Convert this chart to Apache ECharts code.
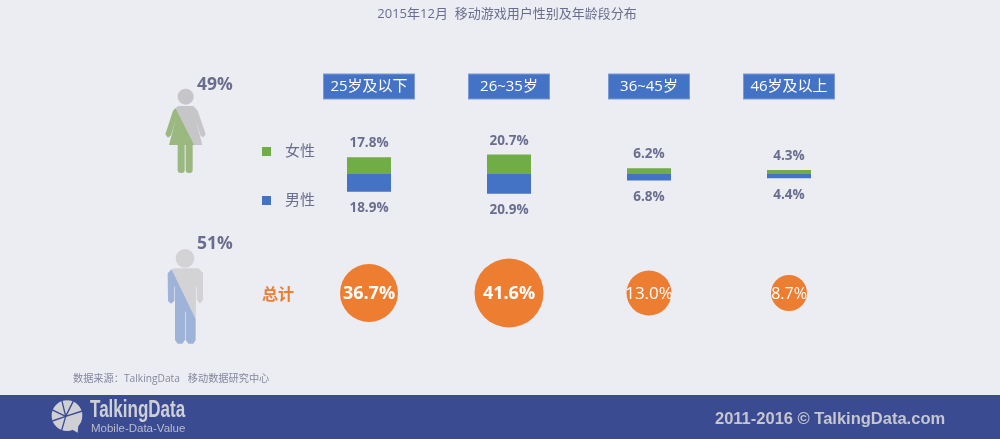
<!DOCTYPE html>
<html>
<head>
    <meta charset="utf-8">
    <script src="https://cdn.jsdelivr.net/npm/echarts@6/dist/echarts.min.js"></script>
    <style type="text/css">
        html, body { width: 100%; height: 100%; margin: 0; background: #ececf3; }
        #chart { width: 1000px; height: 439px; }
    </style>
</head>
<body>
<div id="chart"></div>
<script type="text/javascript">
    var ageGroups = ['25岁及以下', '26~35岁', '36~45岁', '46岁及以上'];
    var female = [17.8, 20.7, 6.2, 4.3];
    var male = [18.9, 20.9, 6.8, 4.4];
    var total = [36.7, 41.6, 13.0, 8.7];
    var femaleShare = '49%';
    var maleShare = '51%';

    var FONT = '"Open Sans", "Noto Sans CJK SC", sans-serif';
    var TEXT = '#6a6e8e';
    var GREEN = '#70ad47';
    var BLUE = '#4472c4';
    var ORANGE = '#ed7d31';

    // bubbles in the picture are not area-true, so size goes through these stops
    var sizeStops = [[8.7, 36], [13, 45], [36.7, 58], [41.6, 69]];
    function bubbleSize(v) {
        for (var i = 1; i < sizeStops.length; i++) {
            if (v <= sizeStops[i][0]) {
                return echarts.number.linearMap(v,
                    [sizeStops[i - 1][0], sizeStops[i][0]],
                    [sizeStops[i - 1][1], sizeStops[i][1]]);
            }
        }
        return sizeStops[sizeStops.length - 1][1];
    }

    function poly(points, fill) {
        return { type: 'polygon', shape: { points: points }, style: { fill: fill } };
    }
    function head(x, y, r, fill) {
        return { type: 'circle', shape: { cx: x, cy: y, r: r }, style: { fill: fill } };
    }
    function txt(x, y, text, font, fill, align) {
        return {
            type: 'text', x: x, y: y,
            style: { text: text, font: font, fill: fill, align: align || 'left', verticalAlign: 'middle' }
        };
    }

    // figures are drawn at 3x and scaled down
    var woman = {
        type: 'group', x: 155, y: 80, scaleX: 1 / 3, scaleY: 1 / 3, silent: true,
        children: [
            head(92, 50, 24, '#c6c6c8'),
            poly([[62, 84], [70, 78], [115, 78], [128, 92], [152, 162], [146, 172], [137, 168], [122, 118], [142, 195], [118, 195]], '#c6c6c8'),
            poly([[62, 84], [118, 195], [42, 195], [62, 118], [48, 166], [39, 173], [31, 163], [54, 92]], '#9ab87f'),
            { type: 'rect', shape: { x: 68, y: 190, width: 21, height: 89, r: 9 }, style: { fill: '#9ab87f' } },
            { type: 'rect', shape: { x: 92, y: 190, width: 21, height: 89, r: 9 }, style: { fill: '#9ab87f' } }
        ]
    };
    var man = {
        type: 'group', x: 155, y: 245, scaleX: 1 / 3, scaleY: 1 / 3, silent: true,
        children: [
            head(90, 40, 28, '#d3d3d5'),
            poly([[50, 73], [60, 70], [130, 70], [144, 84], [144, 165], [135, 176], [126, 165], [126, 125], [124, 125], [122, 222]], '#d3d3d5'),
            poly([[50, 73], [122, 222], [122, 285], [115, 296], [100, 296], [92, 285], [92, 200], [90, 200], [90, 285], [82, 296], [68, 296], [60, 285], [60, 125], [58, 125], [58, 168], [48, 176], [39, 168], [38, 85]], '#9fb3d8')
        ]
    };

    var FOOT = '#3b4b91';
    var LOGO = '#cfd0d6';
    function cut(x2, y2) {
        return { type: 'line', shape: { x1: 62, y1: 64, x2: x2, y2: y2 }, style: { stroke: FOOT, lineWidth: 4 } };
    }
    var logo = {
        type: 'group', x: 45, y: 395, scaleX: 1 / 3, scaleY: 1 / 3, silent: true,
        children: [
            head(66, 62, 46, LOGO),
            poly([[75, 100], [100, 90], [98, 113]], LOGO),
            cut(50, 14), cut(86, 16), cut(112, 48), cut(20, 44), cut(22, 78), cut(50, 106)
        ]
    };

    var logoName = txt(90, 411, 'TalkingData', 'bold 23px "Liberation Sans", sans-serif', LOGO);
    logoName.scaleX = 0.74;

    var option = {
        animation: false,
        backgroundColor: '#ececf3',
        textStyle: { fontFamily: FONT },
        legend: {
            left: 262, top: 144, orient: 'vertical', padding: 0,
            icon: 'rect', itemWidth: 9, itemHeight: 9, itemGap: 34,
            selectedMode: false,
            textStyle: { color: TEXT, fontSize: 15, fontFamily: FONT, padding: [0, 0, 0, 9] },
            data: ['女性', '男性']
        },
        grid: [
            { left: 299, width: 560, top: 150.5, height: 47 },
            { left: 299, width: 560, top: 253, height: 80 }
        ],
        xAxis: [
            {
                gridIndex: 0, type: 'category', position: 'top',
                data: ageGroups.map(function (a) {
                    return { value: a, textStyle: { width: a.indexOf('~') < 0 ? 90 : 80 } };
                }),
                axisLine: { show: false }, axisTick: { show: false },
                axisLabel: {
                    interval: 0, margin: 52,
                    color: '#fff', fontSize: 15, fontFamily: FONT,
                    backgroundColor: BLUE, borderColor: '#7c9ad6', borderWidth: 1,
                    width: 80, height: 24, lineHeight: 24, align: 'center', overflow: 'none'
                }
            },
            { gridIndex: 1, type: 'category', data: ageGroups, show: false }
        ],
        yAxis: [
            { gridIndex: 0, type: 'value', min: -25, max: 25, show: false, splitLine: { show: false } },
            {
                gridIndex: 1, type: 'category', data: ['总计'],
                axisLine: { show: false }, axisTick: { show: false },
                axisLabel: {
                    margin: 5,
                    formatter: '{t|{value}}',
                    rich: { t: { color: ORANGE, fontSize: 16, fontWeight: 'bold', padding: [4, 0, 0, 0], fontFamily: FONT } }
                }
            }
        ],
        series: [
            {
                name: '女性', type: 'bar', stack: 'age', barWidth: 44,
                xAxisIndex: 0, yAxisIndex: 0,
                itemStyle: { color: GREEN },
                label: {
                    show: true, position: 'top', distance: 7,
                    color: TEXT, fontSize: 13.5, fontWeight: 'bold', fontFamily: FONT,
                    formatter: function (p) { return p.value.toFixed(1) + '%'; }
                },
                data: female
            },
            {
                name: '男性', type: 'bar', stack: 'age', barWidth: 44,
                xAxisIndex: 0, yAxisIndex: 0,
                itemStyle: { color: BLUE },
                label: {
                    show: true, position: 'bottom', distance: 10,
                    color: TEXT, fontSize: 13.5, fontWeight: 'bold', fontFamily: FONT,
                    formatter: function (p) { return Math.abs(p.value).toFixed(1) + '%'; }
                },
                data: male.map(function (v) { return -v; })
            },
            {
                name: '总计', type: 'scatter',
                xAxisIndex: 1, yAxisIndex: 1,
                symbolSize: function (d) { return bubbleSize(d[2]); },
                itemStyle: { color: ORANGE, opacity: 1 },
                label: {
                    show: true, position: 'inside', offset: [0, 1], color: '#fff', fontFamily: FONT,
                    formatter: function (p) { return p.value[2].toFixed(1) + '%'; }
                },
                data: total.map(function (v, i) {
                    return {
                        value: [ageGroups[i], '总计', v],
                        label: v > 20 ? { fontSize: 18, fontWeight: 'bold' } : { fontSize: v > 10 ? 17 : 16 }
                    };
                })
            }
        ],
        graphic: [
            txt(507, 14, '2015年12月  移动游戏用户性别及年龄段分布', '13px ' + FONT, TEXT, 'center'),
            woman,
            man,
            txt(197, 85, femaleShare, 'bold 17.5px ' + FONT, TEXT),
            txt(197, 244, maleShare, 'bold 17.5px ' + FONT, TEXT),
            txt(73, 379, '数据来源：TalkingData   移动数据研究中心', '10.2px ' + FONT, '#85889f'),
            { type: 'rect', shape: { x: 0, y: 395, width: 1000, height: 44 }, style: { fill: FOOT }, silent: true },
            logo,
            logoName,
            txt(91, 429, 'Mobile-Data-Value', '11.5px "Liberation Sans", sans-serif', '#b9bccb'),
            txt(715, 419, '2011-2016 © TalkingData.com', 'bold 16.5px "Liberation Sans", sans-serif', '#c5c6cf')
        ]
    };

    var chart = echarts.init(document.getElementById('chart'));
    chart.setOption(option);
</script>
</body>
</html>
